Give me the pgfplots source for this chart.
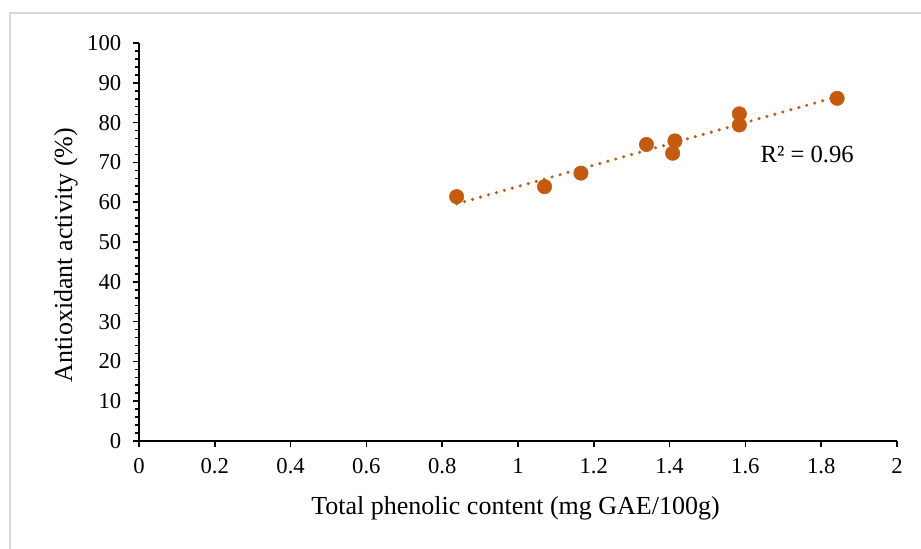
\documentclass[border=0pt]{standalone}
\usepackage{pgfplots}
\pgfplotsset{compat=1.18}
\usepackage{fontspec}
\setmainfont{Liberation Serif}
\definecolor{exorange}{HTML}{C55A11}
\begin{document}
\fontsize{17pt}{20pt}\selectfont
\begin{tikzpicture}
\path[use as bounding box] (-104.25pt,-81pt) rectangle (586.5pt,330.75pt);
\draw[gray!30, line width=1.5pt] (-96.4pt,-81pt) -- (-96.4pt,321pt) -- (586.5pt,321pt);
\begin{axis}[
  at={(0,0)}, anchor=south west,
  scale only axis, width=568.5pt, height=298.5pt,
  xmin=0, xmax=2, ymin=0, ymax=100,
  axis lines=left,
  axis line style={line width=1.8pt, -},
  xtick={0,0.2,...,2.01},
  ytick={0,10,...,100},
  minor y tick num=4,
  xticklabels={0,0.2,0.4,0.6,0.8,1,1.2,1.4,1.6,1.8,2},
  tick style={black, line width=1.2pt},
  tick align=outside,
  major tick length=4.5pt,
  minor tick length=3pt,
  xtick pos=bottom, ytick pos=left,
  /pgf/number format/assume math mode=true,
  ticklabel style={font=\fontsize{17pt}{20pt}\selectfont},
  xticklabel style={yshift=-3pt},
  yticklabel style={xshift=-3pt},
  clip=false,
]
\addplot[only marks, mark=*, mark size=5.4pt, color=exorange] coordinates {
(0.838,61.4) (1.070,63.9) (1.166,67.3) (1.339,74.5) (1.414,75.4)
(1.408,72.3) (1.584,82.2) (1.584,79.4) (1.842,86.1)
};
\addplot[color=exorange, line width=2.6pt, dash pattern=on 0pt off 6.2pt, line cap=round] coordinates {
(0.838,59.6) (1.842,86.5)
};
\node[anchor=center, font=\fontsize{18.5pt}{21pt}\selectfont] at (axis cs:1.763,71.9) {R² = 0.96};
\end{axis}
\node[anchor=center, font=\fontsize{19.5pt}{22pt}\selectfont] at (282.4pt,-50.25pt) {Total phenolic content (mg GAE/100g)};
\node[rotate=90, anchor=center, font=\fontsize{19.5pt}{22pt}\selectfont] at (-54.75pt,139.5pt) {Antioxidant activity (\%)};
\end{tikzpicture}
\end{document}
